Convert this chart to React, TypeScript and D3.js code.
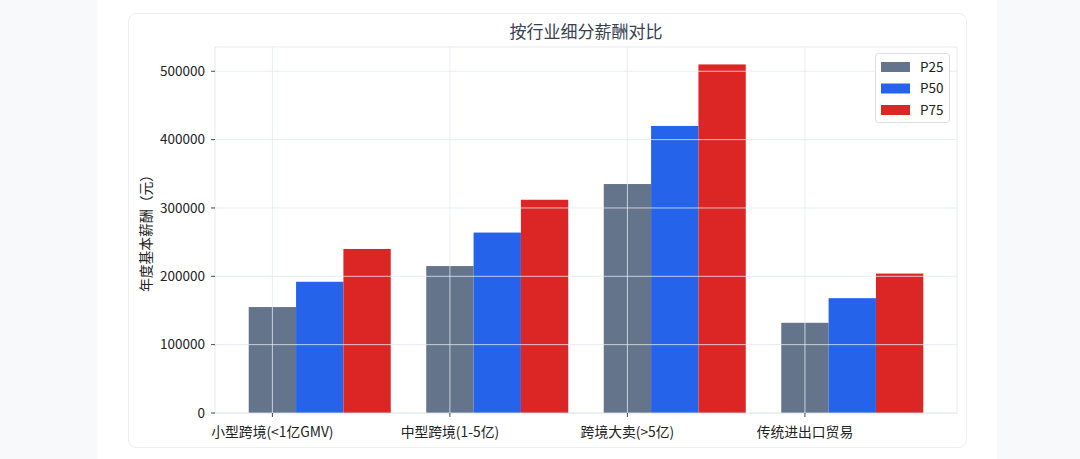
import React from "react";
import * as d3 from "d3";

const categories = ["小型跨境(<1亿GMV)", "中型跨境(1-5亿)", "跨境大卖(>5亿)", "传统进出口贸易"];
const seriesNames = ["P25", "P50", "P75"];
const p25 = [155000, 215000, 335000, 132000];
const p50 = [192000, 264000, 420000, 168000];
const p75 = [240000, 312000, 510000, 204000];
const seriesColors = ["#64748b", "#2563eb", "#dc2626"];
const yTicks = [0, 100000, 200000, 300000, 400000, 500000];
const title = "按行业细分薪酬对比";
const yLabel = "年度基本薪酬（元）";

const W = 1080;
const H = 459;
const font = "'Noto Sans CJK SC', 'Noto Sans', sans-serif";

export default function App() {
  const series = [p25, p50, p75];
  const bw = 0.8 / 3;
  const left = 215, right = 957, top = 47, bottom = 413;
  const dataMin = -bw / 2;
  const dataMax = categories.length - 1 + 2 * bw + bw / 2;
  const pad = 0.05 * (dataMax - dataMin);
  const x = d3.scaleLinear().domain([dataMin - pad, dataMax + pad]).range([left, right]);
  const yMax = (d3.max(series.flat()) as number) * 1.05;
  const y = d3.scaleLinear().domain([0, yMax]).range([bottom, top]);
  const pxW = x(bw) - x(0);

  return (
    <svg width={W} height={H} style={{ position: "absolute", left: 0, top: 0 }} fontFamily={font}>
      <rect x={0} y={0} width={W} height={H} fill="#f8f9fb" />
      <rect x={97} y={0} width={900} height={H} fill="#ffffff" />
      <rect x={128.5} y={13.5} width={838} height={434} rx={8} fill="#ffffff" stroke="#eceef1" />
      <text x={(left + right) / 2} y={38} textAnchor="middle" fontSize={17} fill="#374151">{title}</text>
      <rect x={left} y={top} width={right - left} height={bottom - top} fill="#ffffff" stroke="#e6eaee" />
      {series.map((vals, si) =>
        vals.map((v, ci) => (
          <rect key={`${si}-${ci}`} x={x(ci + si * bw) - pxW / 2} y={y(v)} width={pxW} height={bottom - y(v)} fill={seriesColors[si]} />
        ))
      )}
      {yTicks.map((t) => (
        <line key={`gy${t}`} x1={left} x2={right} y1={y(t)} y2={y(t)} stroke="#e2e8f0" strokeOpacity={0.8} />
      ))}
      {categories.map((c, i) => (
        <line key={`gx${i}`} x1={x(i)} x2={x(i)} y1={top} y2={bottom} stroke="#e2e8f0" strokeOpacity={0.8} />
      ))}
      {yTicks.map((t) => (
        <g key={`ty${t}`}>
          <line x1={left - 4} x2={left} y1={y(t)} y2={y(t)} stroke="#444" />
          <text x={left - 10} y={y(t)} dy="0.35em" textAnchor="end" fontSize={13.5} fill="#222">{t}</text>
        </g>
      ))}
      {categories.map((c, i) => (
        <g key={`tx${i}`}>
          <line x1={x(i)} x2={x(i)} y1={bottom} y2={bottom + 4} stroke="#444" />
          <text x={x(i)} y={bottom + 24} textAnchor="middle" fontSize={13.8} fill="#222">{c}</text>
        </g>
      ))}
      <text transform={`translate(151,${(top + bottom) / 2}) rotate(-90)`} textAnchor="middle" fontSize={13.8} fill="#222">{yLabel}</text>
      <rect x={875.5} y={53.5} width={74} height={69} rx={3} fill="#ffffff" stroke="#dcdcdc" />
      {seriesNames.map((n, i) => (
        <g key={n}>
          <rect x={881} y={62 + i * 21.5} width={29} height={10} fill={seriesColors[i]} />
          <text x={920} y={67 + i * 21.5} dy="0.35em" fontSize={13.5} fill="#222">{n}</text>
        </g>
      ))}
    </svg>
  );
}
